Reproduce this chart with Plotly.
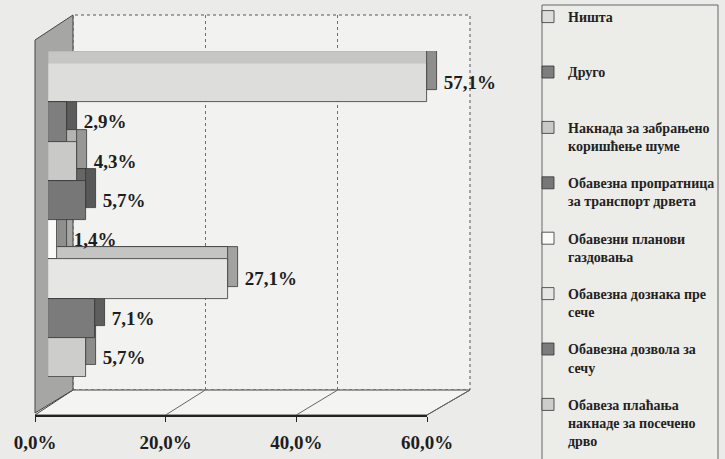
import plotly.graph_objects as go

# ---------------- data ----------------
categories = [
    "Ништа",
    "Друго",
    "Накнада за забрањено коришћење шуме",
    "Обавезна пропратница за транспорт дрвета",
    "Обавезни планови газдовања",
    "Обавезна дознака пре сече",
    "Обавезна дозвола за сечу",
    "Обавеза плаћања накнаде за посечено дрво",
]
legend_labels = [
    "Ништа<br>\u00a0",
    "Друго<br>\u00a0",
    "Накнада за забрањено<br>коришћење шуме",
    "Обавезна пропратница<br>за транспорт дрвета",
    "Обавезни планови<br>газдовања",
    "Обавезна дознака пре<br>сече",
    "Обавезна дозвола за<br>сечу",
    "Обавеза плаћања<br>накнаде за посечено<br>дрво",
]
values = [57.1, 2.9, 4.3, 5.7, 1.4, 27.1, 7.1, 5.7]
value_labels = ["57,1%", "2,9%", "4,3%", "5,7%", "1,4%", "27,1%", "7,1%", "5,7%"]
tick_vals = [0, 20, 40, 60]
tick_text = ["0,0%", "20,0%", "40,0%", "60,0%"]

# ---------------- styles ----------------
front_colors = ["#dddddb", "#7e7e7e", "#c9c9c7", "#777777", "#fafaf8", "#e6e6e4", "#7b7b7b", "#cdcdcb"]
top_colors = ["#c6c6c4", "#6a6a6a", "#b4b4b2", "#666666", "#d4d4d2", "#c4c4c2", "#686868", "#b6b6b4"]
side_colors = ["#8e8e8c", "#5c5c5c", "#979795", "#585858", "#8f8f8d", "#a2a2a0", "#5e5e5e", "#8c8c8a"]

W, H = 725, 459


def px(x):
    return x / W


def py(y):
    return 1 - y / H


SCALE = 6.63          # pixels per percent on the bar plane
X0 = 48               # left of bar fronts
XMAX = 66             # range maximum of bar axes
DX, DY = 10, 12       # 3D depth of bars
BAR_TOP, BAR_BOT = 63, 377

serif = "Liberation Serif"

fig = go.Figure()
n = len(categories)

# empty helper trace so that the back-wall grid subplot is drawn first
fig.add_trace(go.Scatter(x=[], y=[], xaxis="x", yaxis="y", showlegend=False,
                         hoverinfo="skip", legendgroup="frame"))

# back/side faces
for i in range(n):
    fig.add_trace(go.Bar(
        x=[values[i]], y=[categories[i]], orientation="h",
        xaxis="x2", yaxis="y2",
        marker=dict(color=side_colors[i], line=dict(color="#333333", width=0.8)),
        showlegend=False, legendgroup=categories[i], hoverinfo="skip",
    ))
# top faces
for i in range(n):
    fig.add_trace(go.Bar(
        x=[values[i]], y=[categories[i]], orientation="h",
        xaxis="x3", yaxis="y3",
        marker=dict(color=top_colors[i], line=dict(color="#333333", width=0.8)),
        showlegend=False, legendgroup=categories[i], hoverinfo="skip",
    ))
# front faces
for i in range(n):
    fig.add_trace(go.Bar(
        x=[values[i]], y=[categories[i]], orientation="h",
        xaxis="x4", yaxis="y4",
        name=legend_labels[i], legendgroup=categories[i],
        marker=dict(color=front_colors[i], line=dict(color="#333333", width=0.8)),
        text=["\u00a0\u00a0\u00a0" + value_labels[i]], textposition="outside",
        cliponaxis=False, constraintext="none",
        textfont=dict(family=serif, size=19, color="#1e1e1e", weight="bold"),
        hovertemplate=categories[i] + ": %{x}%<extra></extra>",
    ))

# empty helper trace for the front floor edge axis with tick labels
fig.add_trace(go.Scatter(x=[], y=[], xaxis="x5", yaxis="y5", showlegend=False,
                         hoverinfo="skip", legendgroup="frame"))

hidden = dict(showgrid=False, zeroline=False, showline=False, showticklabels=False, ticks="",
              automargin=False)
cat_axis = dict(hidden, type="category", categoryorder="array", categoryarray=categories,
                range=[n - 0.5, -0.5])

# decorative 3D frame: back wall, floor, left wall, legend box
wall_l, wall_r, wall_top, floor_back, floor_front = 73, 470, 15, 390, 415
front_l, front_r = 35, 427
shapes = [
    dict(type="rect", xref="paper", yref="paper", layer="below",
         x0=px(wall_l), x1=px(wall_r), y0=py(floor_back), y1=py(wall_top),
         fillcolor="#f2f2f0", line=dict(color="#555555", width=1, dash="dot")),
    dict(type="path", xref="paper", yref="paper", layer="below",
         path=f"M {px(front_l)} {py(floor_front)} L {px(wall_l)} {py(floor_back)} "
              f"L {px(wall_r)} {py(floor_back)} L {px(front_r)} {py(floor_front)} Z",
         fillcolor="#f4f4f2", line=dict(color="#444444", width=1)),
    dict(type="path", xref="paper", yref="paper", layer="below",
         path=f"M {px(front_l)} {py(floor_front - 2)} L {px(front_l)} {py(40)} "
              f"L {px(wall_l)} {py(wall_top)} L {px(wall_l)} {py(floor_back)} Z",
         fillcolor="#a6a6a4", line=dict(color="#444444", width=1)),
    dict(type="rect", xref="paper", yref="paper", layer="below",
         x0=px(542), x1=px(718), y0=py(470), y1=py(5),
         fillcolor="#ecece9", line=dict(color="#666666", width=1)),
]
for t in tick_vals[1:]:
    fx = front_l + (front_r - front_l) * t / 60
    bx = wall_l + (wall_r - wall_l) * t / 60
    shapes.append(dict(type="line", xref="paper", yref="paper", layer="below",
                       x0=px(fx), y0=py(floor_front), x1=px(bx), y1=py(floor_back),
                       line=dict(color="#666666", width=1)))

fig.update_layout(
    template="none",
    width=W, height=H,
    margin=dict(l=0, r=0, t=0, b=0, pad=0, autoexpand=False),
    paper_bgcolor="#ebebe9",
    plot_bgcolor="rgba(0,0,0,0)",
    barmode="overlay", bargap=0,
    shapes=shapes,
    # back wall gridlines
    xaxis=dict(domain=[px(wall_l), px(wall_r)], range=[0, 60], anchor="y",
               showgrid=True, gridcolor="#6e6e6e", griddash="dot", gridwidth=1,
               tickvals=tick_vals, showticklabels=False, ticks="", zeroline=False, showline=False,
               automargin=False),
    yaxis=dict(hidden, domain=[py(floor_back), py(wall_top)], range=[0, 1], anchor="x"),
    # side faces
    xaxis2=dict(hidden, domain=[px(X0 + DX), px(X0 + DX + XMAX * SCALE)], range=[0, XMAX], anchor="y2"),
    yaxis2=dict(cat_axis, domain=[py(BAR_BOT - DY), py(BAR_TOP - DY)], anchor="x2"),
    # top faces
    xaxis3=dict(hidden, domain=[px(X0), px(X0 + XMAX * SCALE)], range=[0, XMAX], anchor="y3"),
    yaxis3=dict(cat_axis, domain=[py(BAR_BOT - DY), py(BAR_TOP - DY)], anchor="x3"),
    # front faces
    xaxis4=dict(hidden, domain=[px(X0), px(X0 + XMAX * SCALE)], range=[0, XMAX], anchor="y4"),
    yaxis4=dict(cat_axis, domain=[py(BAR_BOT), py(BAR_TOP)], anchor="x4"),
    # front floor edge with tick labels
    xaxis5=dict(domain=[px(front_l), px(front_r)], range=[0, 60], anchor="y5",
                showgrid=False, zeroline=False, showline=True, linecolor="#222222", linewidth=1.5,
                ticks="outside", ticklen=5, tickcolor="#222222", automargin=False,
                tickvals=tick_vals, ticktext=tick_text, ticklabelstandoff=4,
                tickfont=dict(family=serif, size=19, color="#1e1e1e", weight="bold")),
    yaxis5=dict(hidden, domain=[py(floor_front), py(floor_front - 10)], range=[0, 1], anchor="x5"),
    legend=dict(
        x=px(528), y=py(1), xanchor="left", yanchor="top",
        bgcolor="rgba(0,0,0,0)", borderwidth=0,
        font=dict(family=serif, size=14, color="#222222", weight="bold"),
        traceorder="grouped", valign="top", itemwidth=30, tracegroupgap=16,
    ),
)

fig.write_html("out.html", config={"displayModeBar": False},
               post_script="document.body.style.margin='0px';")
